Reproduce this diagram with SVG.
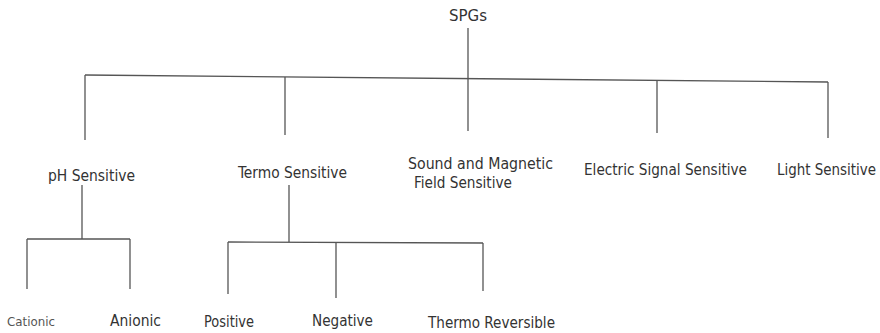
<svg xmlns="http://www.w3.org/2000/svg" width="880" height="333" viewBox="0 0 880 333">
<style>
text{font-family:"DejaVu Sans Condensed","DejaVu Sans",sans-serif;font-size:15px;fill:#333}
.sm{font-size:13px;fill:#555}
#connectors line{stroke:#555;stroke-width:1.3;fill:none}
</style>
<rect width="880" height="333" fill="#fff"/>
<g id="connectors">
<line x1="468" y1="28" x2="468" y2="131"/>
<line x1="85" y1="75" x2="828" y2="82"/>
<line x1="85" y1="75" x2="85" y2="140"/>
<line x1="285" y1="77" x2="285" y2="135"/>
<line x1="657" y1="80" x2="657" y2="133"/>
<line x1="828" y1="82" x2="828" y2="138"/>
<line x1="82" y1="185" x2="82" y2="239"/>
<line x1="27" y1="239" x2="130" y2="239"/>
<line x1="27" y1="239" x2="27" y2="289"/>
<line x1="130" y1="239" x2="130" y2="289"/>
<line x1="289" y1="185" x2="289" y2="242"/>
<line x1="228" y1="242" x2="483" y2="243"/>
<line x1="228" y1="242" x2="228" y2="294"/>
<line x1="336" y1="243" x2="336" y2="298"/>
<line x1="483" y1="243" x2="483" y2="291"/>
</g>
<g id="spgs"><text x="449" y="21" textLength="38" lengthAdjust="spacingAndGlyphs">SPGs</text></g>
<g id="ph"><text x="48" y="181" textLength="87" lengthAdjust="spacingAndGlyphs">pH Sensitive</text></g>
<g id="termo"><text x="238" y="178" textLength="109" lengthAdjust="spacingAndGlyphs">Termo Sensitive</text></g>
<g id="sound"><text x="408" y="169" textLength="145" lengthAdjust="spacingAndGlyphs">Sound and Magnetic</text><text x="414" y="188" textLength="98" lengthAdjust="spacingAndGlyphs">Field Sensitive</text></g>
<g id="electric"><text x="584" y="175" textLength="163" lengthAdjust="spacingAndGlyphs">Electric Signal Sensitive</text></g>
<g id="light"><text x="777" y="175" textLength="99" lengthAdjust="spacingAndGlyphs">Light Sensitive</text></g>
<g id="cationic"><text class="sm" x="7" y="326" textLength="48" lengthAdjust="spacingAndGlyphs">Cationic</text></g>
<g id="anionic"><text x="110" y="326" textLength="51" lengthAdjust="spacingAndGlyphs">Anionic</text></g>
<g id="positive"><text x="204" y="327" textLength="50" lengthAdjust="spacingAndGlyphs">Positive</text></g>
<g id="negative"><text x="312" y="326" textLength="61" lengthAdjust="spacingAndGlyphs">Negative</text></g>
<g id="thermorev"><text x="428" y="328" textLength="127" lengthAdjust="spacingAndGlyphs">Thermo Reversible</text></g>
</svg>
